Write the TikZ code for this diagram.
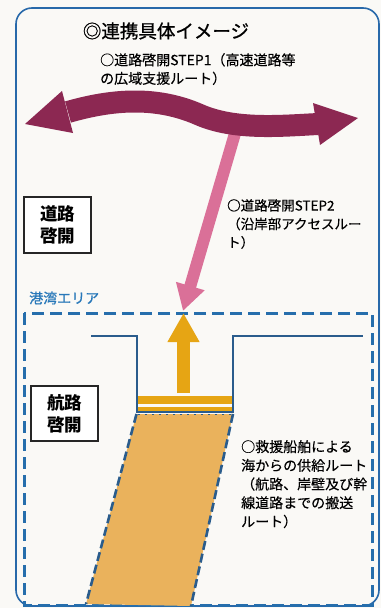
\documentclass[tikz,border=0pt]{standalone}
\usepackage{fontspec}
\setmainfont{Noto Sans CJK JP}
\newfontfamily\medjp{Noto Sans CJK JP}[FakeBold=0.35]
\newfontfamily\semijp{Noto Sans CJK JP}[FakeBold=0.9]
\usetikzlibrary{arrows.meta}
\definecolor{paper}{RGB}{250,249,246}
\definecolor{frameblue}{RGB}{40,105,170}
\definecolor{dashblue}{RGB}{38,110,172}
\definecolor{darkblue}{RGB}{42,92,140}
\definecolor{maroonc}{RGB}{140,40,82}
\definecolor{pinkr}{RGB}{218,112,152}
\definecolor{goldc}{RGB}{230,165,20}
\definecolor{tanc}{RGB}{234,178,92}
\definecolor{labelblue}{RGB}{40,120,185}
\tikzset{
  labelbox/.style={draw=black!85, line width=1.2pt, fill=white, minimum width=67pt,
    minimum height=56pt, align=center, inner sep=0pt,
    font=\bfseries\fontsize{17.5}{22}\selectfont},
  plaintext/.style={inner sep=0pt, align=left, anchor=north west},
}
\begin{document}
\begin{tikzpicture}[x=1pt,y=-1pt]
\fill[paper] (0,0) rectangle (381,608);
\useasboundingbox (0,0) rectangle (381,608);
% outer frame
\draw[frameblue, line width=1.6pt, rounded corners=16pt] (16,8) rectangle (379,606);
% title
\node[font=\semijp\fontsize{18.5}{22}\selectfont] (title) at (166,31) {◎連携具体イメージ};
\node[plaintext, font=\medjp\fontsize{14}{18.5}\selectfont] (step1) at (100,53) {○道路啓開STEP1（高速道路等\\の広域支援ルート）};
% pink arrow (STEP2)
\coordinate (pinkstart) at (236,130);
\coordinate (pinktip) at (183,311);
\draw[pinkr, line width=12pt, -{Triangle[length=26pt,width=28pt]}] (pinkstart) -- (pinktip);
% maroon double arrow
\draw[maroonc, line width=22pt] (68,112) .. controls (110,100) and (155,95) .. (200,115)
  .. controls (235,130) and (280,126) .. (318,124);
\fill[maroonc] (25,124) -- (62,91) -- (73,133) -- cycle;
\fill[maroonc] (358,118) -- (313,103) -- (320,145) -- cycle;
% STEP2 label
\node[plaintext, font=\medjp\fontsize{13.5}{18.5}\selectfont] (step2) at (227,199) {○道路啓開STEP2\\（沿岸部アクセスルー\\ト）};
% box road
\node[labelbox] (roadbox) at (57.5,225) {道路\\啓開};
% harbour area
\node[inner sep=0pt, anchor=west, text=labelblue, font=\semijp\fontsize{14}{16}\selectfont] (harbour) at (29,298) {港湾エリア};
\draw[dashblue, line width=3pt, dash pattern=on 12pt off 6pt] (24,313) rectangle (372,605);
% sea route parallelogram
\fill[tanc] (136.5,414) -- (233,414) -- (191,606) -- (86,604) -- cycle;
\draw[darkblue, line width=2.6pt, dash pattern=on 9pt off 4pt] (136.5,414) -- (86,604);
\draw[darkblue, line width=2.6pt, dash pattern=on 9pt off 4pt] (233,414) -- (191,606);
\draw[darkblue, line width=1.5pt, dash pattern=on 2pt off 5pt] (138,414.5) -- (232,414.5);
% channel outline
\draw[darkblue, line width=2pt] (91,335.5) -- (136.5,335.5) -- (136.5,412) -- (233,412) -- (233,335.5) -- (363,335.5);
% bars
\fill[goldc] (138,396) rectangle (232,404);
\fill[goldc] (138,407) rectangle (232,410.5);
% orange arrow
\coordinate (orstart) at (183.5,393);
\coordinate (ortip) at (183.5,313);
\draw[goldc, line width=13pt, -{Triangle[length=29pt,width=30pt]}] (orstart) -- (ortip);
% box channel
\node[labelbox, minimum height=55pt] (seabox) at (64.5,413.5) {航路\\啓開};
% bottom label
\node[plaintext, font=\medjp\fontsize{14}{18.7}\selectfont] (sealabel) at (241,440) {○救援船舶による\\海からの供給ルート\\（航路、岸壁及び幹\\線道路までの搬送\\ルート）};
\end{tikzpicture}
\end{document}
